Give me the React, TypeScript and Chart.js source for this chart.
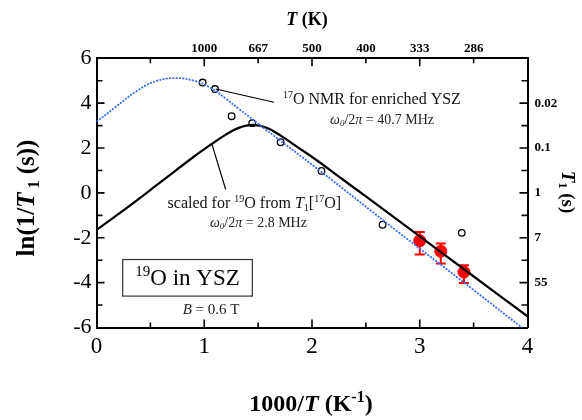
import React, { useEffect, useRef } from 'react';
import { Chart, registerables } from 'chart.js';

Chart.register(...registerables);

const SERIF = '"Liberation Serif", "Times New Roman", serif';

// axis ranges
const X_MIN = 0;
const X_MAX = 4;
const Y_MIN = -6;
const Y_MAX = 6;

// 17O NMR, enriched YSZ (open circles)
const nmrX = [0.985, 1.1, 1.254, 1.445, 1.709, 2.088, 2.655, 3.39];
const nmrY = [4.92, 4.63, 3.42, 3.11, 2.26, 0.98, -1.42, -1.78];

// 19O beta-NMR (filled circles) with error limits
const o19X = [3.0, 3.195, 3.41];
const o19Y = [-2.13, -2.6, -3.53];
const o19Hi = [-1.74, -2.26, -3.23];
const o19Lo = [-2.75, -3.15, -4.02];

// fit to 17O data, w0/2pi = 40.7 MHz
const fit17X = [0, 0.18, 0.37, 0.55, 0.74, 0.92, 1.06, 1.2, 1.32, 1.55, 2.07, 2.815, 3.0, 3.5, 4.0];
const fit17Y = [3.17, 3.84, 4.53, 4.98, 5.12, 4.98, 4.68, 4.2, 3.75, 2.9, 1.0, -1.8, -2.48, -4.33, -6.2];

// scaled curve for 19O, w0/2pi = 2.8 MHz
const fit19X = [0, 0.3, 0.6, 0.9, 1.07, 1.2, 1.32, 1.45, 1.58, 1.72, 1.87, 2.06, 2.28, 2.5, 2.8, 3.0, 3.43, 4.0];
const fit19Y = [-1.65, -0.6, 0.5, 1.6, 2.18, 2.6, 2.9, 3.03, 2.9, 2.52, 2.03, 1.4, 0.62, -0.16, -1.22, -1.94, -3.47, -5.5];

// tick labels
const bottomTickVals = [0, 1, 2, 3, 4];
const topTickVals = [0.5, 1, 1.5, 2, 2.5, 3, 3.5];
const topTickLabels = ['', '1000', '667', '500', '400', '333', '286'];
const leftTickVals = [-6, -4, -2, 0, 2, 4, 6];
const rightTickVals = [4, 2, 0, -2, -4];
const rightTickLabels = ['0.02', '0.1', '1', '7', '55'];

type Seg = { t: string; italic?: boolean; bold?: boolean; scale?: number; shift?: number };

function drawRich(
  ctx: CanvasRenderingContext2D,
  segs: Seg[],
  x: number,
  y: number,
  size: number,
  align: 'left' | 'center',
  color = '#000'
) {
  const fontOf = (s: Seg) =>
    `${s.italic ? 'italic ' : ''}${s.bold ? 'bold ' : ''}${Math.round(size * (s.scale ?? 1))}px ${SERIF}`;
  let total = 0;
  const widths: number[] = [];
  for (const s of segs) {
    ctx.font = fontOf(s);
    const w = ctx.measureText(s.t).width;
    widths.push(w);
    total += w;
  }
  let cx = align === 'center' ? x - total / 2 : x;
  ctx.textAlign = 'left';
  ctx.textBaseline = 'middle';
  ctx.fillStyle = color;
  segs.forEach((s, i) => {
    ctx.font = fontOf(s);
    ctx.fillText(s.t, cx, y + (s.shift ?? 0) * size);
    cx += widths[i];
  });
}

const SUP = { scale: 0.65, shift: -0.3 };
const SUB = { scale: 0.65, shift: 0.28 };

const decorPlugin = {
  id: 'decor',
  beforeDatasetsDraw(chart: any) {
    const { ctx, scales } = chart;
    const xs = scales.x;
    const ys = scales.y;
    ctx.save();
    ctx.strokeStyle = '#ff0000';
    ctx.lineWidth = 2;
    o19X.forEach((xv, i) => {
      const px = xs.getPixelForValue(xv);
      const t = ys.getPixelForValue(o19Hi[i]);
      const b = ys.getPixelForValue(o19Lo[i]);
      ctx.beginPath();
      ctx.moveTo(px, t);
      ctx.lineTo(px, b);
      ctx.moveTo(px - 5, t);
      ctx.lineTo(px + 5, t);
      ctx.moveTo(px - 5, b);
      ctx.lineTo(px + 5, b);
      ctx.stroke();
    });
    ctx.restore();
  },
  afterDraw(chart: any) {
    const { ctx, scales, chartArea } = chart;
    const xs = scales.x;
    const ys = scales.y;
    const { left, right, top, bottom } = chartArea;
    ctx.save();

    // inward ticks
    ctx.strokeStyle = '#000';
    ctx.lineWidth = 1.6;
    ctx.beginPath();
    for (let v = X_MIN + 0.5; v < X_MAX; v += 0.5) {
      const px = xs.getPixelForValue(v);
      const len = Number.isInteger(v) ? 8 : 5;
      ctx.moveTo(px, bottom);
      ctx.lineTo(px, bottom - len);
      ctx.moveTo(px, top);
      ctx.lineTo(px, top + len);
    }
    for (let v = Y_MIN + 1; v < Y_MAX; v += 1) {
      const py = ys.getPixelForValue(v);
      const len = v % 2 === 0 ? 8 : 6;
      ctx.moveTo(left, py);
      ctx.lineTo(left + len, py);
      ctx.moveTo(right, py);
      ctx.lineTo(right - len, py);
    }
    ctx.stroke();

    const P = (x: number, y: number) => [xs.getPixelForValue(x), ys.getPixelForValue(y)];

    // leader lines
    ctx.lineWidth = 1.2;
    ctx.beginPath();
    let a = P(1.106, 4.63);
    let b = P(1.647, 4.04);
    ctx.moveTo(a[0], a[1]);
    ctx.lineTo(b[0], b[1]);
    a = P(1.069, 2.205);
    b = P(1.199, 0.15);
    ctx.moveTo(a[0], a[1]);
    ctx.lineTo(b[0], b[1]);
    ctx.stroke();

    // annotations
    let p = P(1.73, 4.14);
    drawRich(ctx, [{ t: '17', ...SUP }, { t: 'O NMR for enriched YSZ' }], p[0], p[1], 16, 'left', '#111');
    p = P(2.167, 3.25);
    drawRich(
      ctx,
      [{ t: 'ω', italic: true }, { t: '0', italic: true, ...SUB }, { t: '/2' }, { t: 'π', italic: true }, { t: ' = 40.7 MHz' }],
      p[0], p[1], 14, 'left', '#222'
    );
    p = P(0.66, -0.5);
    drawRich(
      ctx,
      [
        { t: 'scaled for ' },
        { t: '19', ...SUP },
        { t: 'O from ' },
        { t: 'T', italic: true },
        { t: '1', ...SUB },
        { t: '[' },
        { t: '17', ...SUP },
        { t: 'O]' },
      ],
      p[0], p[1], 16, 'left', '#111'
    );
    p = P(1.053, -1.35);
    drawRich(
      ctx,
      [{ t: 'ω', italic: true }, { t: '0', italic: true, ...SUB }, { t: '/2' }, { t: 'π', italic: true }, { t: ' = 2.8 MHz' }],
      p[0], p[1], 14, 'left', '#222'
    );

    // label box
    const b1 = P(0.243, -2.97);
    const b2 = P(1.446, -4.6);
    ctx.lineWidth = 1.2;
    ctx.strokeStyle = '#333';
    ctx.strokeRect(b1[0], b1[1], b2[0] - b1[0], b2[1] - b1[1]);
    drawRich(ctx, [{ t: '19', ...SUP }, { t: 'O in YSZ' }], (b1[0] + b2[0]) / 2, (b1[1] + b2[1]) / 2 + 1, 23, 'center', '#000');
    p = P(0.8, -5.24);
    drawRich(ctx, [{ t: 'B', italic: true }, { t: ' = 0.6 T' }], p[0], p[1], 15, 'left', '#222');

    // axis titles
    drawRich(
      ctx,
      [{ t: '1000/', bold: true }, { t: 'T', bold: true, italic: true }, { t: ' (K', bold: true }, { t: '-1', bold: true, ...SUP }, { t: ')', bold: true }],
      311, 405, 24, 'center'
    );
    drawRich(ctx, [{ t: 'T', bold: true, italic: true }, { t: ' (K)', bold: true }], 307, 20, 18, 'center');

    ctx.save();
    ctx.translate(28, 198);
    ctx.rotate(-Math.PI / 2);
    drawRich(
      ctx,
      [{ t: 'ln(1/', bold: true }, { t: 'T', bold: true, italic: true }, { t: ' 1', bold: true, ...SUB }, { t: ' (s))', bold: true }],
      0, 0, 25, 'center'
    );
    ctx.restore();

    ctx.save();
    ctx.translate(567, 192);
    ctx.rotate(Math.PI / 2);
    drawRich(
      ctx,
      [{ t: 'T', bold: true, italic: true }, { t: '1', bold: true, ...SUB }, { t: ' (s)', bold: true }],
      0, 0, 19, 'center'
    );
    ctx.restore();

    ctx.restore();
  },
};

export default function App() {
  const canvasRef = useRef<HTMLCanvasElement | null>(null);

  useEffect(() => {
    const canvas = canvasRef.current;
    if (!canvas) return;
    const pts = (xs: number[], ys: number[]) => xs.map((x, i) => ({ x, y: ys[i] }));
    const border = { display: true, color: '#000', width: 2 };
    const grid = { display: false, drawTicks: false };

    const chart = new Chart(canvas, {
      type: 'scatter',
      data: {
        datasets: [
          {
            data: pts(fit17X, fit17Y),
            showLine: true,
            borderColor: '#3a6cff',
            borderWidth: 1.8,
            borderDash: [2, 1.3],
            pointRadius: 0,
            tension: 0.4,
          },
          {
            data: pts(fit19X, fit19Y),
            showLine: true,
            borderColor: '#000',
            borderWidth: 2.2,
            pointRadius: 0,
            tension: 0.4,
          },
          {
            data: pts(nmrX, nmrY),
            showLine: false,
            pointRadius: 3.3,
            pointBackgroundColor: '#fff',
            pointBorderColor: '#000',
            pointBorderWidth: 1.3,
          },
          {
            data: pts(o19X, o19Y),
            showLine: false,
            pointRadius: 6,
            pointBackgroundColor: '#ff0000',
            pointBorderColor: '#ff0000',
            pointBorderWidth: 1,
          },
        ],
      } as any,
      options: {
        responsive: false,
        animation: false,
        events: [],
        layout: { padding: 0 },
        plugins: { legend: { display: false }, tooltip: { enabled: false } },
        scales: {
          x: {
            type: 'linear',
            position: 'bottom',
            min: X_MIN,
            max: X_MAX,
            grid,
            border,
            afterBuildTicks: (s: any) => {
              s.ticks = bottomTickVals.map((v) => ({ value: v }));
            },
            ticks: {
              autoSkip: false,
              maxRotation: 0,
              padding: 6,
              color: '#000',
              font: { family: SERIF, size: 23 },
              callback: (v: any) => String(v),
            },
            afterFit: (s: any) => {
              s.height = 92.5;
            },
          },
          x2: {
            type: 'linear',
            position: 'top',
            min: X_MIN,
            max: X_MAX,
            grid,
            border,
            afterBuildTicks: (s: any) => {
              s.ticks = topTickVals.map((v) => ({ value: v }));
            },
            ticks: {
              autoSkip: false,
              maxRotation: 0,
              padding: 2,
              color: '#000',
              font: { family: SERIF, size: 13, weight: 'bold' },
              callback: (v: any) => topTickLabels[topTickVals.indexOf(Number(v))] ?? '',
            },
            afterFit: (s: any) => {
              s.height = 58.3;
            },
          },
          y: {
            type: 'linear',
            position: 'left',
            min: Y_MIN,
            max: Y_MAX,
            grid,
            border,
            afterBuildTicks: (s: any) => {
              s.ticks = leftTickVals.map((v) => ({ value: v }));
            },
            ticks: {
              autoSkip: false,
              padding: 5,
              color: '#000',
              font: { family: SERIF, size: 22 },
              callback: (v: any) => String(v),
            },
            afterFit: (s: any) => {
              s.width = 96.5;
            },
          },
          y2: {
            type: 'linear',
            position: 'right',
            min: Y_MIN,
            max: Y_MAX,
            grid,
            border,
            afterBuildTicks: (s: any) => {
              s.ticks = rightTickVals.map((v) => ({ value: v }));
            },
            ticks: {
              autoSkip: false,
              padding: 7,
              color: '#000',
              font: { family: SERIF, size: 13, weight: 'bold' },
              callback: (v: any) => rightTickLabels[rightTickVals.indexOf(Number(v))] ?? '',
            },
            afterFit: (s: any) => {
              s.width = 54.5;
            },
          },
        },
      } as any,
      plugins: [decorPlugin],
    });

    return () => chart.destroy();
  }, []);

  return (
    <div style={{ position: 'absolute', left: 0, top: 0, width: 582, height: 420, background: '#fff' }}>
      <canvas ref={canvasRef} width={582} height={420} style={{ width: 582, height: 420, display: 'block' }} />
    </div>
  );
}
